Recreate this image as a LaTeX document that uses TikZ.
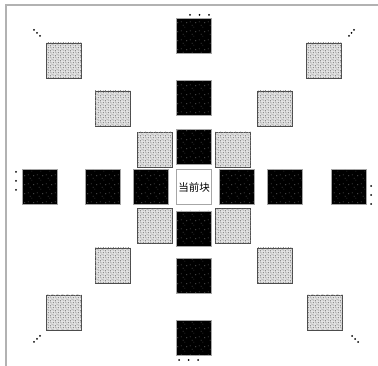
\documentclass[tikz,border=0pt]{standalone}
\usepackage{fontspec}
\newfontfamily\cjk{Noto Sans CJK SC}
\usetikzlibrary{patterns}
\pgfdeclarepatternformonly{speckle}{\pgfpointorigin}{\pgfpoint{9pt}{9pt}}{\pgfpoint{9pt}{9pt}}{%
  \pgfpathrectangle{\pgfpoint{1pt}{2pt}}{\pgfpoint{0.7pt}{0.7pt}}%
  \pgfpathrectangle{\pgfpoint{5pt}{6pt}}{\pgfpoint{0.7pt}{0.7pt}}%
  \pgfpathrectangle{\pgfpoint{7pt}{1pt}}{\pgfpoint{0.7pt}{0.7pt}}%
  \pgfpathrectangle{\pgfpoint{3pt}{8pt}}{\pgfpoint{0.7pt}{0.7pt}}%
  \pgfusepath{fill}}
\pgfdeclarepatternformonly{noise}{\pgfpointorigin}{\pgfpoint{5pt}{5pt}}{\pgfpoint{5pt}{5pt}}{%
  \pgfpathrectangle{\pgfpoint{0pt}{0pt}}{\pgfpoint{1pt}{1pt}}%
  \pgfpathrectangle{\pgfpoint{2pt}{1pt}}{\pgfpoint{1.2pt}{0.8pt}}%
  \pgfpathrectangle{\pgfpoint{1pt}{3pt}}{\pgfpoint{1pt}{1pt}}%
  \pgfpathrectangle{\pgfpoint{3.5pt}{3.5pt}}{\pgfpoint{1pt}{1pt}}%
  \pgfpathrectangle{\pgfpoint{4pt}{0.5pt}}{\pgfpoint{0.8pt}{1pt}}%
  \pgfpathrectangle{\pgfpoint{0.2pt}{4.2pt}}{\pgfpoint{0.8pt}{0.8pt}}%
  \pgfusepath{fill}}
\tikzset{
  blk/.style={draw=gray!70, line width=0.5pt, fill=black, minimum size=35pt, inner sep=0pt,
    postaction={pattern=speckle, pattern color=gray!80}},
  gry/.style={draw=gray!60!black, line width=0.6pt, fill=gray!22, minimum size=35pt, inner sep=0pt,
    postaction={pattern=noise, pattern color=gray!90}},
  cur/.style={draw=gray!70, line width=0.5pt, fill=white, minimum size=35pt, inner sep=0pt, font=\cjk\fontsize{10.5pt}{11pt}\selectfont},
  dot/.style={circle, fill=black, inner sep=0pt, minimum size=2pt},
  frame/.style={draw=gray!60, line width=1.2pt}
}
\begin{document}
\begin{tikzpicture}[x=1pt,y=-1pt]
\useasboundingbox (0,0) rectangle (378,366);
\coordinate (f1) at (378,5);
\coordinate (f2) at (6,5);
\coordinate (f3) at (6,366);
\draw[frame] (f1) -- (f2) -- (f3);
% center
\node[cur] (c) at (194,187) {当前块};
% vertical column
\node[blk] (n1) at (194,36) {};
\node[blk] (n2) at (194,98) {};
\node[blk] (n3) at (194,146.5) {};
\node[blk] (s3) at (194,228.5) {};
\node[blk] (s2) at (194,276) {};
\node[blk] (s1) at (194,338) {};
% horizontal row
\node[blk] (w1) at (39.5,187) {};
\node[blk] (w2) at (102.5,187) {};
\node[blk] (w3) at (151,187) {};
\node[blk] (e3) at (237,187) {};
\node[blk] (e2) at (285,187) {};
\node[blk] (e1) at (348.5,187) {};
% diagonals
\node[gry] (nw1) at (64,60.5) {};
\node[gry] (nw2) at (112.5,108.5) {};
\node[gry] (nw3) at (155,149.5) {};
\node[gry] (ne3) at (233,149.5) {};
\node[gry] (ne2) at (275,108.5) {};
\node[gry] (ne1) at (324,60.5) {};
\node[gry] (sw3) at (155,226) {};
\node[gry] (se3) at (233,226) {};
\node[gry] (sw2) at (112.5,265.5) {};
\node[gry] (se2) at (275,265.5) {};
\node[gry] (sw1) at (64,312.5) {};
\node[gry] (se1) at (325,312.5) {};
% ellipsis dots
\foreach \i/\x/\y in {a/190/15,b/199.5/15,c/209/15,
  d/179/360,e/188.5/360,f/198/360,
  g/16/172,h/16/181,i/16/190,
  j/371/186,k/371/195,l/371/204,
  m/34/30,n/37/33,o/40/36,
  p/349/36,q/351.5/33,r/354/30,
  s/34/342,t/37/339,u/40/336,
  v/352/336,w/355/339,z/358/342}
  \node[dot] (d\i) at (\x,\y) {};
\end{tikzpicture}
\end{document}
